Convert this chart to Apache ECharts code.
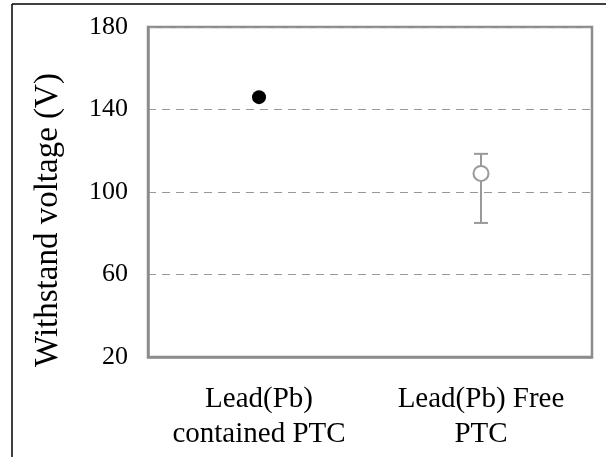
<!DOCTYPE html>
<html>
<head>
<meta charset="utf-8">
<script src="https://cdn.jsdelivr.net/npm/echarts@6/dist/echarts.min.js"></script>
<style>
  html, body { margin: 0; padding: 0; background: #fff; }
  #chart { width: 606px; height: 457px; }
</style>
</head>
<body>
<div id="chart"></div>
<script>
// data
var categories = ['Lead(Pb)\ncontained PTC', 'Lead(Pb) Free\nPTC'];
var leadValues = [146, null];
var freeValues = [null, 109];
// error bar for the lead free sample: [category index, low, high]
var freeErrors = [[1, 85, 118.5]];
var yTicks = [20, 60, 100, 140, 180];

var serif = '"Liberation Serif", "DejaVu Serif", serif';
var gray = '#8c8c8c';

var myChart = echarts.init(document.getElementById('chart'));

var option = {
    animation: false,
    backgroundColor: '#fff',
    grid: {
        left: 148, right: 14, top: 27, bottom: 100,
        show: true, borderColor: gray, borderWidth: 2.5
    },
    graphic: [
        // thin outer frame (left and top edges of the figure)
        { type: 'line', shape: { x1: 12, y1: 4, x2: 12, y2: 457 }, style: { stroke: '#000', lineWidth: 1.5 } },
        { type: 'line', shape: { x1: 12, y1: 4, x2: 606, y2: 4 }, style: { stroke: '#000', lineWidth: 1.5 } }
    ],
    xAxis: {
        type: 'category',
        data: categories,
        boundaryGap: true,
        axisLine: { lineStyle: { color: gray, width: 2.5 } },
        axisTick: { inside: true, length: 9, lineStyle: { color: gray, width: 1 } },
        axisLabel: {
            interval: 0,
            hideOverlap: false,
            color: '#000', fontFamily: serif, fontSize: 29,
            lineHeight: 35, margin: 25
        },
        splitLine: { show: false }
    },
    yAxis: {
        type: 'value',
        min: yTicks[0],
        max: yTicks[yTicks.length - 1],
        interval: 40,
        name: 'Withstand voltage (V)',
        nameLocation: 'middle',
        nameGap: 83,
        nameTextStyle: { color: '#000', fontFamily: serif, fontSize: 33, padding: [0, 56, 0, 0] },
        axisLine: { show: true, lineStyle: { color: gray, width: 2.5 } },
        axisTick: { show: false },
        axisLabel: { color: '#000', fontFamily: serif, fontSize: 26, margin: 20 },
        splitLine: { show: true, lineStyle: { color: '#999', type: [8, 6], width: 1 } }
    },
    series: [
        {
            name: 'error',
            type: 'custom',
            z: 1,
            renderItem: function (params, api) {
                var x = api.value(0);
                var lo = api.coord([x, api.value(1)]);
                var hi = api.coord([x, api.value(2)]);
                var w = 7;
                var st = { stroke: '#999', lineWidth: 2 };
                return {
                    type: 'group',
                    children: [
                        { type: 'line', shape: { x1: lo[0], y1: lo[1], x2: hi[0], y2: hi[1] }, style: st },
                        { type: 'line', shape: { x1: lo[0] - w, y1: lo[1], x2: lo[0] + w, y2: lo[1] }, style: st },
                        { type: 'line', shape: { x1: hi[0] - w, y1: hi[1], x2: hi[0] + w, y2: hi[1] }, style: st }
                    ]
                };
            },
            data: freeErrors
        },
        {
            name: 'Lead(Pb) contained',
            type: 'scatter',
            z: 3,
            symbol: 'circle',
            symbolSize: 14,
            itemStyle: { color: '#000', opacity: 1 },
            data: leadValues
        },
        {
            name: 'Lead(Pb) Free',
            type: 'scatter',
            z: 3,
            symbol: 'circle',
            symbolSize: 15,
            itemStyle: { color: '#fff', borderColor: '#999', borderWidth: 2, opacity: 1 },
            data: freeValues
        }
    ]
};

myChart.setOption(option);
</script>
</body>
</html>
